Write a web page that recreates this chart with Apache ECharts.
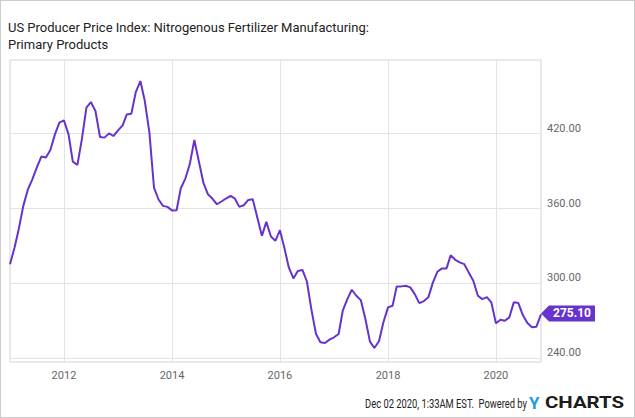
<!DOCTYPE html>
<html>
<head>
<meta charset="utf-8">
<script src="https://cdn.jsdelivr.net/npm/echarts@6/dist/echarts.min.js"></script>
<style>
  html, body { margin: 0; padding: 0; background: #fff; }
  #chart { position: absolute; left: 0; top: 0; width: 635px; height: 418px; }
  #frame { position: absolute; left: 0; top: 0; width: 635px; height: 418px; box-sizing: border-box; border: 1px solid #cccccc; pointer-events: none; }
</style>
</head>
<body>
<div id="chart"></div>
<div id="frame"></div>
<script>
// ---- data ----
const titleLines = ['US Producer Price Index: Nitrogenous Fertilizer Manufacturing:', 'Primary Products'];
const startYear = 2011;
const startMonth = 0; // January
const values = [
  // 2011
  315.4, 328.8, 343.4, 362.1, 374.9, 383.4, 392.8, 401.6, 400.8, 406.9, 419.4, 428.8,
  // 2012
  430.6, 419.4, 397.6, 394.9, 415.4, 440.8, 445.3, 438.1, 417.3, 416.8, 420.2, 418.1,
  // 2013
  422.6, 426.6, 435.4, 436.0, 453.3, 462.1, 446.1, 420.8, 376.8, 367.4, 362.1, 361.3,
  // 2014
  358.5, 358.6, 376.0, 384.0, 395.4, 414.9, 398.1, 380.8, 371.4, 368.0, 363.4, 365.6,
  // 2015
  368.0, 370.1, 368.2, 361.3, 362.6, 366.9, 367.4, 352.8, 338.1, 349.3, 337.6, 334.1,
  // 2016
  342.6, 328.0, 312.8, 304.0, 310.0, 310.8, 301.7, 279.0, 259.4, 252.8, 252.2, 254.9,
  // 2017
  256.8, 259.4, 278.1, 287.4, 294.9, 290.1, 286.6, 271.4, 253.3, 248.2, 253.6, 268.8,
  // 2018
  280.8, 282.1, 297.6, 297.6, 298.1, 296.8, 291.4, 284.2, 285.8, 288.8, 300.8, 309.3,
  // 2019
  312.0, 312.0, 322.6, 318.9, 316.8, 315.4, 308.8, 302.1, 290.1, 287.4, 289.0, 284.8,
  // 2020
  268.0, 270.9, 270.1, 272.8, 284.8, 284.2, 274.6, 268.2, 264.8, 265.3, 275.10
];
const yTicks = [240, 300, 360, 420];
const xTickYears = [2012, 2014, 2016, 2018, 2020];
const yMin = 237, yMax = 479;
const footerText = 'Dec 02 2020, 1:33AM EST.  Powered by';

// ---- build ----
const dates = values.map((v, i) => new Date(startYear, startMonth + i, 1).getTime());
const seriesData = values.map((v, i) => [dates[i], v]);
const xTicks = xTickYears.map(y => new Date(y, 0, 1).getTime());
const lastPoint = seriesData[seriesData.length - 1];

const purple = '#6633cc';
const chart = echarts.init(document.getElementById('chart'), null, { renderer: 'svg' });
chart.setOption({
  animation: false,
  backgroundColor: '#fff',
  textStyle: { fontFamily: 'Roboto' },
  grid: {
    left: 10, right: 94, top: 60, bottom: 56,
    show: true, borderColor: '#d4d4d4', borderWidth: 1, containLabel: false
  },
  xAxis: {
    type: 'value',
    min: dates[0],
    max: dates[dates.length - 1],
    axisLine: { show: false },
    axisTick: { show: false, customValues: xTicks },
    axisLabel: {
      customValues: xTicks,
      formatter: v => String(new Date(v).getFullYear()),
      color: '#666', fontSize: 11, margin: 8, fontFamily: 'Roboto'
    },
    splitLine: { show: true, lineStyle: { color: '#e3e3e3', width: 1 } }
  },
  yAxis: {
    type: 'value',
    position: 'right',
    min: yMin, max: yMax,
    axisLine: { show: false },
    axisTick: { show: false, customValues: yTicks },
    axisLabel: {
      customValues: yTicks,
      formatter: v => v.toFixed(2),
      color: '#666', fontSize: 11, margin: 6, verticalAlign: 'bottom', fontFamily: 'Roboto'
    },
    splitLine: { show: true, lineStyle: { color: '#e3e3e3', width: 1 } }
  },
  series: [{
    type: 'line',
    data: seriesData,
    showSymbol: false,
    lineStyle: { color: purple, width: 2 },
    itemStyle: { color: purple },
    clip: false,
    markPoint: {
      symbol: 'path://M0,8 L8,0 L54,0 L54,16 L8,16 Z',
      symbolSize: [54, 16],
      symbolOffset: [27, -1],
      itemStyle: { color: purple },
      label: {
        show: true, position: 'inside', color: '#fff', fontWeight: 'bold',
        fontSize: 12, fontFamily: 'Roboto', offset: [4, 0],
        formatter: p => Number(p.value).toFixed(2)
      },
      data: [{ coord: lastPoint, value: lastPoint[1] }]
    }
  }],
  graphic: [
    {
      type: 'text', left: 8, top: 19,
      style: {
        text: titleLines.join('\n'), fontSize: 13, lineHeight: 17,
        fontFamily: 'Roboto', fill: '#222'
      }
    },
    {
      type: 'text', x: 527, y: 404, scaleX: 0.78,
      style: {
        text: footerText, x: 0, y: 0, fontSize: 12, fontFamily: 'Roboto', fill: '#222',
        textAlign: 'right', textVerticalAlign: 'middle'
      }
    },
    {
      type: 'text', x: 529, y: 403,
      style: {
        text: 'Y', x: 0, y: 0, fontSize: 17, fontWeight: 'bold', fontFamily: 'Roboto', fill: '#1a9be2',
        textAlign: 'left', textVerticalAlign: 'middle'
      }
    },
    {
      type: 'text', x: 545, y: 403, scaleX: 1.2,
      style: {
        text: 'CHARTS', x: 0, y: 0, fontSize: 17, fontWeight: 'bold', fontFamily: 'Roboto', fill: '#1c1c1c',
        textAlign: 'left', textVerticalAlign: 'middle'
      }
    }
  ]
});
</script>
</body>
</html>
